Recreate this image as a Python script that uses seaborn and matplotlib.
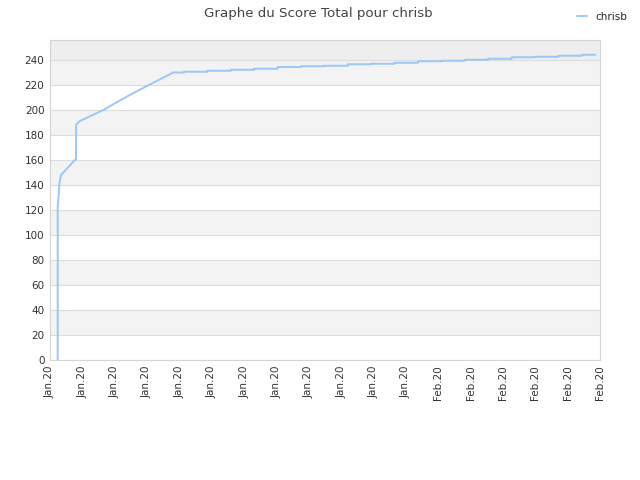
import pandas as pd
import matplotlib.pyplot as plt
import matplotlib.dates as mdates
import seaborn as sns

# Early part of the curve (timestamps and total score)
early_times = ["2020-01-16 14:29", "2020-01-16 14:30", "2020-01-16 15:17",
               "2020-01-16 16:20", "2020-01-16 17:53", "2020-01-17 08:11",
               "2020-01-17 09:15", "2020-01-17 09:20", "2020-01-17 10:35",
               "2020-01-17 13:20", "2020-01-18 13:17", "2020-01-19 13:17",
               "2020-01-20 13:10", "2020-01-21 11:23", "2020-01-21 11:40"]
early_scores = [0, 122.6, 130, 141.6, 148, 160,
                160, 188, 189.3, 191.2, 200, 210.7,
                220.5, 229.3, 230.0]

# Daily updates afterwards (new score at each midnight)
daily_days = pd.date_range("2020-01-22", "2020-02-08", freq="D")
daily_scores = [230.6, 231.4, 232.2, 233.0, 234.4, 235.0, 235.4, 236.6, 237.0,
                237.8, 239.0, 239.4, 240.2, 241.0, 242.2, 242.6, 243.4, 244.2]
last_time = "2020-02-08 13:50"

# Build the series, with a flat segment before each daily jump
times = list(pd.to_datetime(early_times))
scores = list(early_scores)
for day, score in zip(daily_days, daily_scores):
    times.append(day)
    scores.append(scores[-1])
    times.append(day)
    scores.append(score)
times.append(pd.Timestamp(last_time))
scores.append(scores[-1])

df = pd.DataFrame({"date": times, "score": scores, "joueur": "chrisb"})

sns.set(style="white")
plt.rcParams["font.family"] = ["DejaVu Sans"]

fig = plt.figure(figsize=(6.4, 4.8), dpi=100)
ax = fig.add_axes([50 / 640, 120 / 480, 550 / 640, 320 / 480])

# Alternating background bands
for lo in range(20, 240, 40):
    ax.axhspan(lo, lo + 20, color="#f3f3f3", lw=0, zorder=0)
ax.axhspan(240, 256, color="#eeeeee", lw=0, zorder=0)

sns.lineplot(data=df, x="date", y="score", hue="joueur", palette=["#9ac7f5"],
             linewidth=1.4, ax=ax, legend=False, sort=False, estimator=None)

ax.set_ylim(0, 256)
ax.set_yticks(range(0, 241, 20))
ax.yaxis.grid(True, color="#dddddd", linewidth=0.8)
ax.set_axisbelow(True)

xstart = pd.Timestamp("2020-01-16 06:35")
xend = pd.Timestamp("2020-02-08 18:35")
ax.set_xlim(xstart, xend)
ax.set_xticks(pd.date_range(xstart, xend, periods=18))
ax.xaxis.set_major_formatter(mdates.DateFormatter("%b.%y"))
ax.tick_params(axis="x", rotation=90)
ax.tick_params(labelsize=7.5, colors="#333333", length=0, pad=4)

for spine in ax.spines.values():
    spine.set_color("#d5d5d5")
    spine.set_linewidth(0.8)

ax.set_xlabel("")
ax.set_ylabel("")

fig.suptitle("Graphe du Score Total pour chrisb", x=0.497, y=0.985,
             fontsize=9.6, color="#444444")

handle = plt.Line2D([], [], color="#9ac7f5", linewidth=1.4)
fig.legend([handle], ["chrisb"], loc="upper right", bbox_to_anchor=(0.995, 0.995),
           frameon=False, fontsize=7.5, handlelength=1.0, handletextpad=0.8)

fig.savefig("out.png", dpi=100)
